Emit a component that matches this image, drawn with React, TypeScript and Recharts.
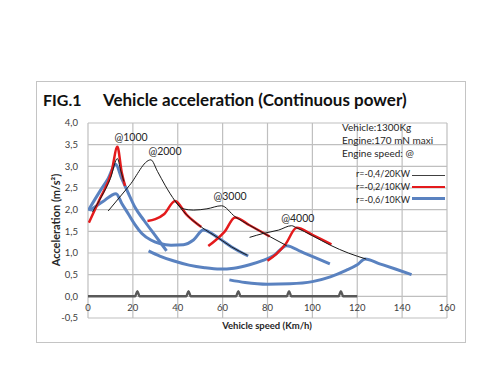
import { LineChart, Line, XAxis, YAxis, CartesianGrid, ReferenceDot } from "recharts";

// speed (km/h), acceleration (m/s²) pairs
const black1000 = [[2, 1.95], [6, 2.3], [10, 2.72], [13.1, 3.18], [14.5, 2.92], [16, 2.65]];
const black2000 = [[9, 1.97], [18.5, 2.56], [28, 3.15], [31, 2.88], [34.5, 2.55], [38.8, 2.2], [44, 1.88], [50.5, 1.6], [58, 1.35], [64, 1.14], [71, 0.95]];
const black3000 = [[38.8, 2.2], [42.4, 2.02], [47, 1.99], [53, 2.02], [59.5, 2.09], [65.5, 1.84], [72, 1.64], [81, 1.38], [88.5, 1.17]];
const black4000 = [[72, 1.36], [78, 1.45], [85, 1.53], [90.7, 1.63], [93, 1.58], [100, 1.4], [108, 1.18], [116, 1.0], [124, 0.86]];

const red1000 = [[0.4, 1.7], [5.3, 2.25], [10.5, 2.87], [13.1, 3.45], [15, 2.87], [16.5, 2.55]];
const red2000 = [[26.5, 1.74], [30, 1.78], [34, 1.9], [38.8, 2.2], [44, 1.88], [50.5, 1.6]];
const red3000 = [[53.6, 1.16], [57, 1.3], [61, 1.5], [65.5, 1.82], [72, 1.64], [81, 1.38]];
const red4000 = [[80, 0.82], [84, 0.98], [88, 1.2], [93, 1.58], [100, 1.42], [108.5, 1.2]];

const blue1 = [[0.1, 1.98], [5, 2.4], [9, 2.72], [12.3, 3.05], [15, 2.72], [17.8, 2.4], [21, 2.05], [25, 1.75], [30, 1.4], [35, 1.05]];
const blue2 = [[0.9, 1.98], [6.5, 2.18], [12.5, 2.37], [15, 2.15], [18, 1.9], [21, 1.65], [24, 1.45], [28, 1.3], [32, 1.22], [37, 1.18], [42.5, 1.19], [47, 1.3], [51.4, 1.53], [58, 1.35], [64, 1.14], [71.4, 0.93]];
const blue3 = [[27, 1.05], [32, 0.93], [38, 0.82], [45, 0.72], [52, 0.66], [58.8, 0.63], [65, 0.65], [72, 0.73], [78, 0.83], [83, 0.95], [88.5, 1.17], [95, 1.03], [101, 0.9], [107.8, 0.75]];
const blue4 = [[63, 0.38], [70, 0.32], [80, 0.28], [90, 0.29], [100, 0.34], [108, 0.45], [115, 0.6], [120, 0.73], [123.5, 0.86], [130, 0.75], [137, 0.63], [144.2, 0.5]];

// gear shift marks on the zero line
const shifts = [[0, 0], [21, 0], [22, 0.12], [23, 0], [43.8, 0], [44.8, 0.12], [45.8, 0], [66, 0], [67, 0.12], [68, 0], [88.6, 0], [89.6, 0.12], [90.6, 0], [111.7, 0], [112.7, 0.12], [113.7, 0], [120, 0]];

const engineLabels = ["@1000", "@2000", "@3000", "@4000"];
const labelX = [19.2, 34.3, 63.3, 93.5];
const labelY = [3.67, 3.35, 2.3, 1.81];

const xTicks = [0, 20, 40, 60, 80, 100, 120, 140, 160];
const yTicks = [-0.5, 0, 0.5, 1, 1.5, 2, 2.5, 3, 3.5, 4];

const noteLines = ["Vehicle:1300Kg", "Engine:170 mN maxi", "Engine speed: @"];
const legendNames = ["r=-0,4/20KW", "r=-0,2/10KW", "r=-0,6/10KW"];

const BLACK = "#1a1a1a";
const RED = "#E41A1C";
const BLUE = "#5A82C0";
const GREY = "#595959";

const toPts = (a: number[][]) => a.map(([x, y]) => ({ x, y }));

const series = [
  ...[blue1, blue2, blue3, blue4].map((d) => ({ d, c: BLUE, w: 3 })),
  ...[red1000, red2000, red3000, red4000].map((d) => ({ d, c: RED, w: 2.5 })),
  ...[black1000, black2000, black3000, black4000].map((d) => ({ d, c: BLACK, w: 1 })),
  { d: shifts, c: GREY, w: 2.5 },
];

const FONT = "Lato, 'Open Sans', sans-serif";

// Excel puts the x labels next to the 0 line, inside the plot
const XTick = ({ x, payload }: any) => (
  <text x={x} y={308} dy="0.35em" textAnchor="middle" fontSize={9.5} fill="#404040" fontFamily={FONT}>
    {payload.value}
  </text>
);

const legendStyle = [
  { c: "#404040", h: 1 },
  { c: RED, h: 2 },
  { c: BLUE, h: 3 },
];

export default function App() {
  return (
    <div style={{ position: "fixed", left: 0, top: 0, width: 500, height: 375, background: "#fff", fontFamily: FONT }}>
      <div style={{ position: "absolute", left: 36, top: 81, width: 430, height: 262, border: "1px solid #C4C4C4", boxSizing: "border-box" }} />
      <LineChart width={500} height={375} margin={{ top: 123, right: 53, bottom: 37, left: 48 }}>
        <CartesianGrid stroke="#BFBFBF" strokeWidth={1.2} />
        <XAxis
          type="number"
          dataKey="x"
          domain={[0, 160]}
          ticks={xTicks}
          interval={0}
          height={20}
          axisLine={false}
          tickLine={false}
          tick={<XTick />}
          allowDataOverflow
        />
        <YAxis
          type="number"
          dataKey="y"
          domain={[-0.5, 4]}
          ticks={yTicks}
          interval={0}
          width={40}
          axisLine={false}
          tickLine={false}
          tickSize={0}
          tickMargin={10}
          tick={{ fontSize: 9.5, fill: "#404040", fontFamily: FONT }}
          tickFormatter={(v: number) => v.toFixed(1).replace(".", ",")}
          allowDataOverflow
        />
        {series.map((s, i) => (
          <Line
            key={i}
            data={toPts(s.d)}
            dataKey="y"
            type="monotone"
            stroke={s.c}
            strokeWidth={s.w}
            dot={false}
            activeDot={false}
            legendType="none"
            isAnimationActive={false}
          />
        ))}
        {engineLabels.map((l, i) => (
          <ReferenceDot
            key={l}
            x={labelX[i]}
            y={labelY[i]}
            r={0}
            fill="none"
            stroke="none"
            label={{ value: l, position: "center", fontSize: 10.5, fill: "#262626", fontFamily: FONT }}
          />
        ))}
      </LineChart>
      <div style={{ position: "absolute", left: 43, top: 90, fontSize: 16, fontWeight: 700, color: "#111" }}>FIG.1</div>
      <div style={{ position: "absolute", left: 103, top: 89, fontSize: 17, fontWeight: 700, color: "#111", whiteSpace: "nowrap" }}>
        Vehicle acceleration (Continuous power)
      </div>
      <div
        style={{
          position: "absolute",
          left: 55,
          top: 220,
          transform: "translate(-50%, -50%) rotate(-90deg)",
          fontSize: 11,
          fontWeight: 700,
          color: "#262626",
          whiteSpace: "nowrap",
        }}
      >
        Acceleration (m/s²)
      </div>
      <div
        style={{
          position: "absolute",
          left: 267,
          top: 325,
          transform: "translate(-50%, -50%)",
          fontSize: 9.5,
          fontWeight: 700,
          color: "#262626",
          whiteSpace: "nowrap",
        }}
      >
        Vehicle speed (Km/h)
      </div>
      {noteLines.map((t, i) => (
        <div key={t} style={{ position: "absolute", left: 342, top: 127 + i * 13, transform: "translateY(-50%)", fontSize: 10, color: "#262626", whiteSpace: "nowrap" }}>
          {t}
        </div>
      ))}
      {legendNames.map((t, i) => (
        <div key={t}>
          <div style={{ position: "absolute", left: 356, top: 173 + i * 13, transform: "translateY(-50%)", fontSize: 9, color: "#262626", whiteSpace: "nowrap" }}>
            {t}
          </div>
          <div style={{ position: "absolute", left: 412, top: 175 + i * 11.5 - legendStyle[i].h / 2, width: 33, height: legendStyle[i].h, background: legendStyle[i].c }} />
        </div>
      ))}
    </div>
  );
}
